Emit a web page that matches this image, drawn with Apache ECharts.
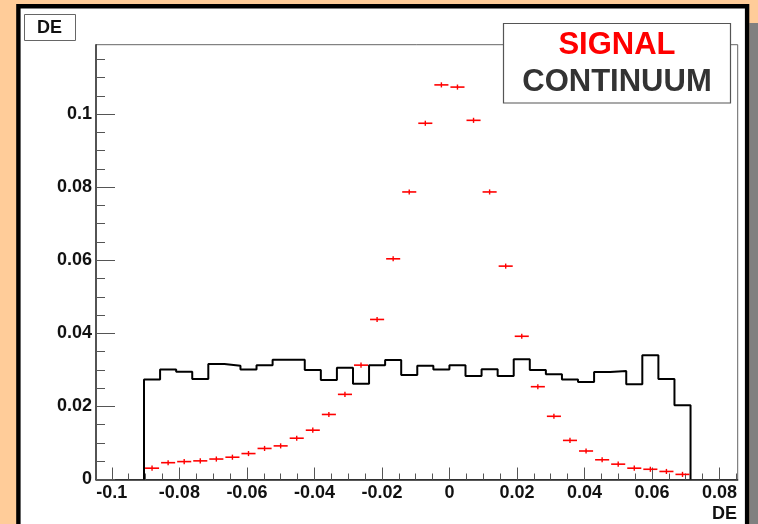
<!DOCTYPE html>
<html>
<head>
<meta charset="utf-8">
<script src="https://cdn.jsdelivr.net/npm/echarts@6/dist/echarts.min.js"></script>
<style>
  html, body { margin: 0; padding: 0; background: #FFCC99; }
  #chart { width: 758px; height: 524px; }
</style>
</head>
<body>
<div id="chart"></div>
<script>
// Histogram definition: 42 bins over [-0.1, 0.1]; entries start in bin 2.
const histRange = [-0.1, 0.1];
const histBins = 42;
const firstFilledBin = 2;

// Normalised DE distributions, one value per filled bin.
const continuum = [
  0.0274, 0.0301, 0.0295, 0.0275, 0.0316, 0.0311, 0.0301, 0.0313, 0.0328, 0.0328,
  0.0300, 0.0272, 0.0306, 0.0262, 0.0313, 0.0327, 0.0286, 0.0311, 0.0301, 0.0313,
  0.0283, 0.0302, 0.0283, 0.0329, 0.0300, 0.0288, 0.0274, 0.0267, 0.0294, 0.0297,
  0.0261, 0.0340, 0.0275, 0.0203
];
const signal = [
  0.0031, 0.0046, 0.0049, 0.0051, 0.0056, 0.0061, 0.0071, 0.0085, 0.0092, 0.0113,
  0.0135, 0.0178, 0.0233, 0.0313, 0.0438, 0.0604, 0.0787, 0.0975, 0.1080, 0.1074,
  0.0983, 0.0787, 0.0584, 0.0392, 0.0254, 0.0173, 0.0107, 0.0078, 0.0054, 0.0042,
  0.0031, 0.0028, 0.0022, 0.0014
];
const signalErr = 0.0007;

// Axis ranges and tick labels.
const xRange = [-0.1047, 0.0854];
const yRange = [0, 0.119];
const xMajorTicks = [-0.1, -0.08, -0.06, -0.04, -0.02, 0, 0.02, 0.04, 0.06, 0.08];
const xTickLabels = ['-0.1', '-0.08', '-0.06', '-0.04', '-0.02', '0', '0.02', '0.04', '0.06', '0.08'];
const yMajorTicks = [0, 0.02, 0.04, 0.06, 0.08, 0.1];
const yTickLabels = ['0', '0.02', '0.04', '0.06', '0.08', '0.1'];
const minorStep = 0.005;

const binWidth = (histRange[1] - histRange[0]) / histBins;
const binLow = i => histRange[0] + (firstFilledBin + i) * binWidth;

function stepsBetween(lo, hi, step) {
  const out = [];
  for (let k = Math.ceil(lo / step - 1e-9); k * step <= hi + 1e-12; k++) out.push(+(k * step).toFixed(4));
  return out;
}
const xMinorTicks = stepsBetween(-0.1, xRange[1], minorStep);
const yMinorTicks = stepsBetween(0, yRange[1], minorStep);

function labelFor(values, labels) {
  return v => {
    const i = values.findIndex(t => Math.abs(t - v) < 1e-9);
    return i >= 0 ? labels[i] : '';
  };
}

// Outline of the continuum histogram as stepped points on the bin edges.
const contPts = [[binLow(0), 0]];
continuum.forEach((v, i) => contPts.push([binLow(i), v]));
contPts.push([binLow(continuum.length), continuum[continuum.length - 1]]);
contPts.push([binLow(continuum.length), 0]);

// Signal points at bin centres.
const sigPts = signal.map((v, i) => [binLow(i) + binWidth / 2, v]);

const FONT = '"Liberation Sans", Arial, Helvetica, sans-serif';
const tickColor = '#555';

const chart = echarts.init(document.getElementById('chart'), null, { renderer: 'canvas' });
chart.setOption({
  animation: false,
  backgroundColor: 'transparent',
  grid: {
    left: 96, top: 44.7, right: 20.3, bottom: 44.5,
    show: true, borderColor: '#666', borderWidth: 1, backgroundColor: 'transparent'
  },
  xAxis: [
    {
      type: 'value', min: xRange[0], max: xRange[1], position: 'bottom',
      axisLine: { show: true, onZero: false, lineStyle: { color: '#222', width: 1.5 } },
      axisTick: { show: true, inside: true, length: 12, customValues: xMajorTicks, lineStyle: { color: tickColor, width: 1 } },
      axisLabel: {
        show: true, customValues: xMajorTicks, formatter: labelFor(xMajorTicks, xTickLabels),
        fontFamily: FONT, fontWeight: 'bold', fontSize: 18, color: '#111', margin: 5
      },
      splitLine: { show: false }
    },
    {
      type: 'value', min: xRange[0], max: xRange[1], position: 'bottom',
      axisLine: { show: false, onZero: false },
      axisTick: { show: true, inside: true, length: 6, customValues: xMinorTicks, lineStyle: { color: tickColor, width: 1 } },
      axisLabel: { show: false },
      splitLine: { show: false }
    }
  ],
  yAxis: [
    {
      type: 'value', min: yRange[0], max: yRange[1], position: 'left',
      axisLine: { show: true, onZero: false, lineStyle: { color: '#333', width: 1.5 } },
      axisTick: { show: true, inside: true, length: 19, customValues: yMajorTicks, lineStyle: { color: tickColor, width: 1 } },
      axisLabel: {
        show: true, customValues: yMajorTicks, formatter: labelFor(yMajorTicks, yTickLabels),
        fontFamily: FONT, fontWeight: 'bold', fontSize: 18, color: '#111', margin: 4
      },
      splitLine: { show: false }
    },
    {
      type: 'value', min: yRange[0], max: yRange[1], position: 'left',
      axisLine: { show: false, onZero: false },
      axisTick: { show: true, inside: true, length: 9, customValues: yMinorTicks, lineStyle: { color: tickColor, width: 1 } },
      axisLabel: { show: false },
      splitLine: { show: false }
    }
  ],
  series: [
    {
      name: 'CONTINUUM',
      type: 'line',
      step: 'end',
      data: contPts,
      showSymbol: false,
      symbol: 'none',
      lineStyle: { color: '#000', width: 2 },
      z: 3
    },
    {
      name: 'SIGNAL',
      type: 'custom',
      data: sigPts,
      z: 4,
      renderItem: (params, api) => {
        const x = api.value(0), y = api.value(1);
        const left = api.coord([x - binWidth / 2, y]);
        const right = api.coord([x + binWidth / 2, y]);
        const top = api.coord([x, y + signalErr]);
        const bot = api.coord([x, y - signalErr]);
        return {
          type: 'group',
          children: [
            { type: 'line', shape: { x1: left[0] + 1, y1: left[1], x2: right[0] - 1, y2: right[1] }, style: { stroke: '#ff0000', lineWidth: 1.6 } },
            { type: 'line', shape: { x1: top[0], y1: top[1], x2: bot[0], y2: bot[1] }, style: { stroke: '#ff0000', lineWidth: 1.4 } }
          ]
        };
      }
    }
  ],
  graphic: [
    // canvas frame and its shadow
    { type: 'rect', z: -20, shape: { x: 749.3, y: 23, width: 10, height: 510 }, style: { fill: '#808080' } },
    { type: 'rect', z: -10, shape: { x: 18.4, y: 6.2, width: 728.7, height: 530 }, style: { fill: '#ffffff', stroke: '#000', lineWidth: 4.4 } },
    // histogram title box
    { type: 'rect', z: 50, shape: { x: 24.5, y: 14.5, width: 51, height: 26 }, style: { fill: '#fff', stroke: '#666', lineWidth: 1 } },
    { type: 'text', z: 51, style: { x: 49.5, y: 28, text: 'DE', align: 'center', verticalAlign: 'middle', font: 'bold 18px ' + FONT, fill: '#111' } },
    // legend box
    { type: 'rect', z: 50, shape: { x: 503.5, y: 23.5, width: 227, height: 79.5 }, style: { fill: '#fff', stroke: '#555', lineWidth: 1.2 } },
    { type: 'text', z: 51, style: { x: 617, y: 45.5, text: 'SIGNAL', align: 'center', verticalAlign: 'middle', font: 'bold 31px ' + FONT, fill: '#ff0000' } },
    { type: 'text', z: 51, style: { x: 617, y: 82, text: 'CONTINUUM', align: 'center', verticalAlign: 'middle', font: 'bold 31px ' + FONT, fill: '#333' } },
    // x-axis title
    { type: 'text', z: 51, style: { x: 737, y: 514, text: 'DE', align: 'right', verticalAlign: 'middle', font: 'bold 18px ' + FONT, fill: '#111' } }
  ]
});
</script>
</body>
</html>
